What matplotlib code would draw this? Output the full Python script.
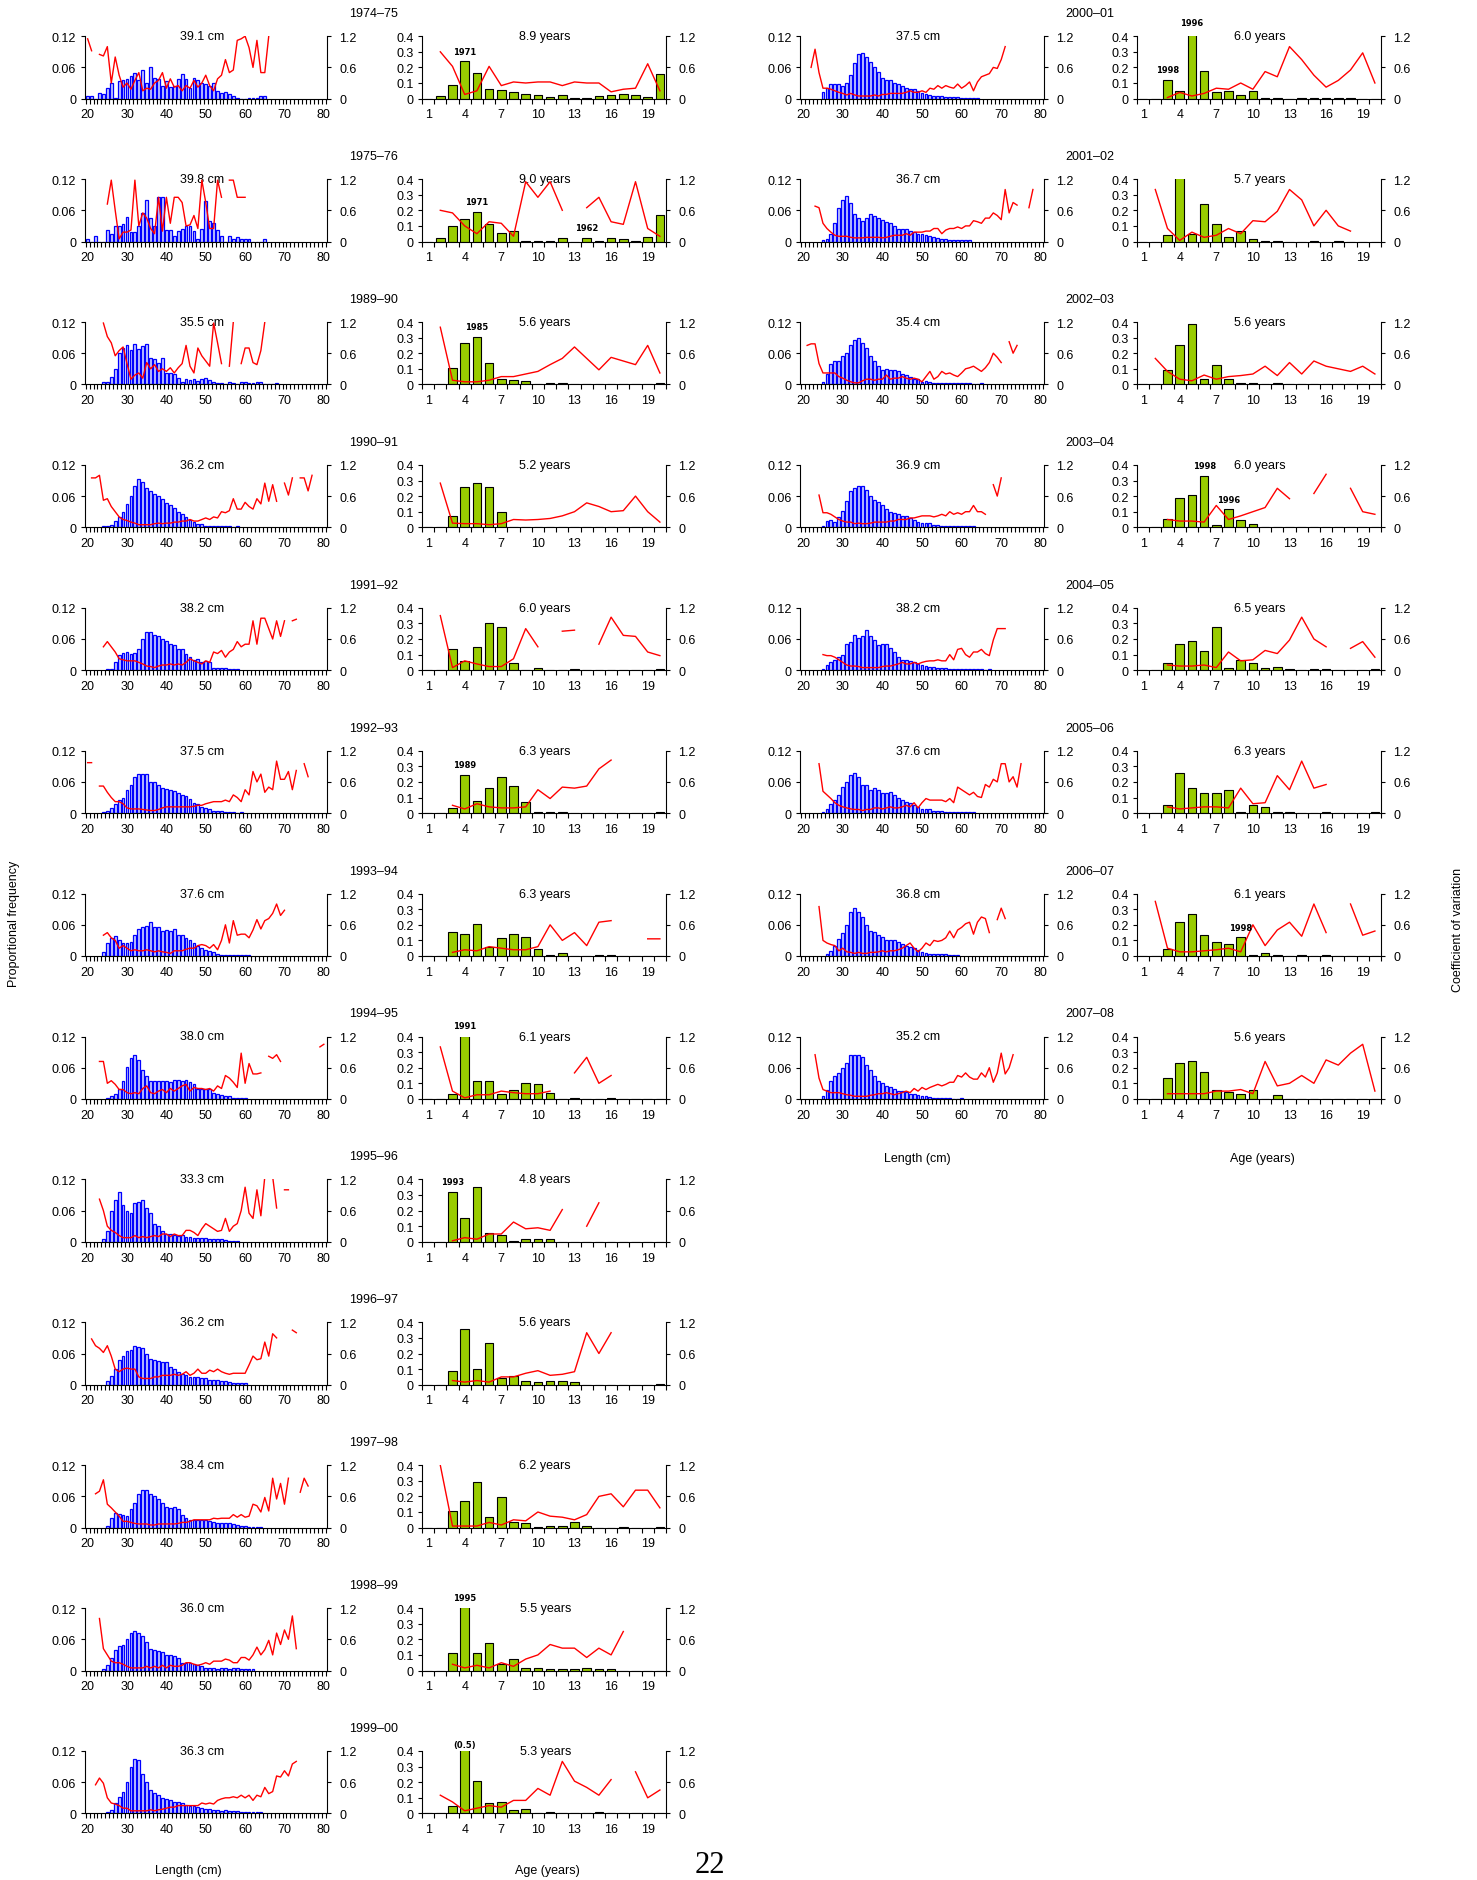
import numpy as np
import matplotlib
matplotlib.use("Agg")
import matplotlib.pyplot as plt

# -----------------------------
# Data
# -----------------------------
SEASONS = ["1974–75", "1975–76", "1989–90", "1990–91", "1991–92", "1992–93", "1993–94",
           "1994–95", "1995–96", "1996–97", "1997–98", "1998–99", "1999–00",
           "2000–01", "2001–02", "2002–03", "2003–04", "2004–05", "2005–06", "2006–07", "2007–08"]
MEAN_LEN = [39.1, 39.8, 35.5, 36.2, 38.2, 37.5, 37.6, 38.0, 33.3, 36.2, 38.4, 36.0, 36.3,
            37.5, 36.7, 35.4, 36.9, 38.2, 37.6, 36.8, 35.2]
MEAN_AGE = [8.9, 9.0, 5.6, 5.2, 6.0, 6.3, 6.3, 6.1, 4.8, 5.6, 6.2, 5.5, 5.3,
            6.0, 5.7, 5.6, 6.0, 6.5, 6.3, 6.1, 5.6]

# length frequency (1 cm classes), first class of each list
LEN_START = [20, 20, 24, 24, 25, 24, 24, 25, 24, 25, 25, 24, 25, 25, 25, 25, 25, 25, 25, 26, 25]
LEN_FREQ = [
    [0.005, 0.005, 0, 0.01, 0.008, 0.02, 0.03, 0.002, 0.033, 0.035, 0.038, 0.044, 0.05, 0.035, 0.055, 0.03,
     0.06, 0.04, 0.038, 0.025, 0.033, 0.022, 0.025, 0.038, 0.047, 0.038, 0.02, 0.04, 0.036, 0.03, 0.028,
     0.025, 0.03, 0.015, 0.01, 0.012, 0.008, 0.005, 0.002, 0, 0, 0.002, 0.002, 0.002, 0.005, 0.005],
    [0.005, 0, 0.01, 0, 0, 0.022, 0.015, 0.03, 0.03, 0.033, 0.048, 0.018, 0.018, 0.03, 0.055, 0.08, 0.045,
     0.03, 0.085, 0.085, 0.022, 0.022, 0.01, 0.02, 0.025, 0.03, 0.03, 0.02, 0.005, 0.025, 0.078, 0.04,
     0.035, 0.022, 0.01, 0, 0.01, 0.005, 0.008, 0.004, 0.004, 0.004, 0, 0, 0, 0.004],
    [0.005, 0.005, 0.015, 0.03, 0.06, 0.07, 0.075, 0.066, 0.077, 0.068, 0.073, 0.078, 0.05, 0.048, 0.042,
     0.05, 0.022, 0.022, 0.02, 0.012, 0.005, 0.01, 0.008, 0.01, 0.006, 0.01, 0.012, 0.008, 0.005, 0.003,
     0.003, 0, 0.004, 0.002, 0, 0.005, 0.004, 0.003, 0.003, 0.004, 0.004, 0, 0, 0, 0.002],
    [0.002, 0.003, 0.005, 0.012, 0.02, 0.03, 0.045, 0.06, 0.08, 0.093, 0.088, 0.075, 0.07, 0.065, 0.06,
     0.055, 0.047, 0.042, 0.038, 0.03, 0.025, 0.02, 0.015, 0.01, 0.007, 0.007, 0.003, 0.002, 0.002, 0.002,
     0.002, 0.002, 0.002, 0.001, 0.002],
    [0.002, 0.002, 0.015, 0.03, 0.033, 0.035, 0.032, 0.033, 0.04, 0.06, 0.073, 0.073, 0.067, 0.066, 0.06,
     0.057, 0.05, 0.048, 0.04, 0.04, 0.032, 0.025, 0.02, 0.022, 0.015, 0.018, 0.015, 0.005, 0.005, 0.005,
     0.005, 0.002, 0.002, 0.002],
    [0.002, 0.005, 0.01, 0.018, 0.025, 0.03, 0.045, 0.055, 0.07, 0.075, 0.075, 0.075, 0.06, 0.06, 0.055,
     0.048, 0.047, 0.045, 0.042, 0.038, 0.035, 0.032, 0.028, 0.02, 0.018, 0.012, 0.01, 0.008, 0.005, 0.005,
     0.004, 0.003, 0.002, 0.002, 0.001, 0.002],
    [0.008, 0.025, 0.035, 0.038, 0.03, 0.025, 0.025, 0.027, 0.04, 0.052, 0.055, 0.058, 0.066, 0.055, 0.055,
     0.048, 0.05, 0.048, 0.052, 0.04, 0.04, 0.035, 0.03, 0.025, 0.02, 0.015, 0.012, 0.01, 0.007, 0.003,
     0.002, 0.002, 0.001, 0.001, 0.002, 0.001, 0.002, 0.002],
    [0.002, 0.005, 0.01, 0.02, 0.035, 0.062, 0.078, 0.085, 0.075, 0.055, 0.045, 0.035, 0.035, 0.035, 0.035,
     0.034, 0.033, 0.037, 0.036, 0.035, 0.037, 0.032, 0.028, 0.02, 0.02, 0.02, 0.02, 0.012, 0.01, 0.007,
     0.005, 0.005, 0.002, 0.002, 0.001, 0.002],
    [0.005, 0.02, 0.06, 0.08, 0.095, 0.07, 0.06, 0.055, 0.075, 0.077, 0.08, 0.065, 0.055, 0.035, 0.03, 0.02,
     0.015, 0.015, 0.013, 0.012, 0.013, 0.01, 0.01, 0.008, 0.008, 0.008, 0.008, 0.006, 0.005, 0.005, 0.005,
     0.004, 0.002, 0.002, 0.002],
    [0.008, 0.017, 0.03, 0.047, 0.055, 0.065, 0.067, 0.075, 0.073, 0.07, 0.06, 0.05, 0.048, 0.045, 0.043,
     0.043, 0.035, 0.03, 0.025, 0.02, 0.018, 0.015, 0.015, 0.015, 0.013, 0.012, 0.01, 0.01, 0.009, 0.008,
     0.007, 0.005, 0.004, 0.003, 0.003, 0.003],
    [0.003, 0.018, 0.028, 0.027, 0.025, 0.022, 0.035, 0.048, 0.065, 0.073, 0.073, 0.065, 0.06, 0.055, 0.048,
     0.04, 0.038, 0.04, 0.035, 0.025, 0.018, 0.015, 0.015, 0.015, 0.015, 0.015, 0.012, 0.01, 0.009, 0.008,
     0.008, 0.009, 0.007, 0.005, 0.004, 0.003, 0.002, 0.002, 0.001, 0.002],
    [0.003, 0.01, 0.025, 0.04, 0.048, 0.05, 0.06, 0.072, 0.076, 0.073, 0.067, 0.055, 0.042, 0.04, 0.038,
     0.035, 0.03, 0.03, 0.028, 0.025, 0.015, 0.015, 0.015, 0.012, 0.01, 0.008, 0.005, 0.005, 0.005, 0.003,
     0.005, 0.004, 0.003, 0.004, 0.004, 0.003, 0.003, 0.002, 0.002],
    [0.002, 0.006, 0.02, 0.032, 0.042, 0.06, 0.09, 0.105, 0.103, 0.075, 0.06, 0.045, 0.04, 0.035, 0.03,
     0.028, 0.025, 0.022, 0.022, 0.02, 0.017, 0.015, 0.015, 0.012, 0.01, 0.008, 0.008, 0.007, 0.006, 0.005,
     0.006, 0.004, 0.004, 0.004, 0.003, 0.002, 0.002, 0.002, 0.002, 0.002],
    [0.012, 0.02, 0.028, 0.028, 0.028, 0.025, 0.03, 0.045, 0.068, 0.085, 0.088, 0.08, 0.07, 0.06, 0.052,
     0.04, 0.035, 0.035, 0.03, 0.028, 0.025, 0.02, 0.018, 0.018, 0.015, 0.01, 0.008, 0.006, 0.005, 0.005,
     0.005, 0.004, 0.004, 0.004, 0.003, 0.002, 0.002, 0.002, 0.002, 0.001],
    [0.002, 0.005, 0.015, 0.035, 0.065, 0.08, 0.088, 0.075, 0.052, 0.045, 0.04, 0.045, 0.052, 0.05, 0.045,
     0.042, 0.038, 0.035, 0.03, 0.025, 0.025, 0.025, 0.02, 0.018, 0.015, 0.015, 0.012, 0.01, 0.008, 0.006,
     0.005, 0.004, 0.003, 0.003, 0.003, 0.002, 0.002, 0.002],
    [0.005, 0.02, 0.04, 0.045, 0.045, 0.055, 0.06, 0.075, 0.085, 0.09, 0.08, 0.07, 0.055, 0.045, 0.035,
     0.028, 0.03, 0.028, 0.027, 0.025, 0.02, 0.018, 0.015, 0.01, 0.01, 0.005, 0.006, 0.005, 0.003, 0.003,
     0.003, 0.003, 0.002, 0.002, 0.002, 0.002, 0.002, 0.002, 0, 0, 0.002],
    [0.003, 0.012, 0.015, 0.01, 0.02, 0.032, 0.05, 0.07, 0.075, 0.08, 0.08, 0.072, 0.06, 0.052, 0.048,
     0.042, 0.035, 0.03, 0.028, 0.025, 0.022, 0.022, 0.018, 0.015, 0.01, 0.008, 0.008, 0.008, 0.004, 0.004,
     0.003, 0.003, 0.003, 0.003, 0.003, 0.003, 0.003, 0.003, 0.002],
    [0.003, 0.01, 0.015, 0.02, 0.025, 0.03, 0.05, 0.055, 0.068, 0.062, 0.065, 0.077, 0.065, 0.058, 0.048,
     0.05, 0.05, 0.042, 0.035, 0.025, 0.02, 0.02, 0.018, 0.015, 0.012, 0.01, 0.008, 0.007, 0.006, 0.005,
     0.005, 0.004, 0.003, 0.003, 0.003, 0.003, 0.003, 0.002, 0.002, 0.002, 0.002, 0, 0.002],
    [0.002, 0.008, 0.018, 0.025, 0.035, 0.05, 0.06, 0.073, 0.077, 0.07, 0.055, 0.055, 0.045, 0.048, 0.045,
     0.038, 0.038, 0.04, 0.035, 0.03, 0.025, 0.022, 0.02, 0.016, 0.012, 0.008, 0.008, 0.007, 0.005, 0.004,
     0.004, 0.003, 0.003, 0.002, 0.002, 0.002, 0.002, 0.002, 0.002],
    [0.003, 0.01, 0.02, 0.033, 0.045, 0.06, 0.085, 0.093, 0.085, 0.075, 0.06, 0.048, 0.047, 0.04, 0.037,
     0.03, 0.03, 0.03, 0.027, 0.023, 0.02, 0.017, 0.015, 0.012, 0.008, 0.005, 0.004, 0.004, 0.003, 0.003,
     0.003, 0.002, 0.002, 0.002],
    [0.005, 0.018, 0.035, 0.045, 0.05, 0.06, 0.07, 0.085, 0.085, 0.085, 0.08, 0.065, 0.055, 0.045, 0.035,
     0.03, 0.025, 0.022, 0.02, 0.015, 0.015, 0.013, 0.01, 0.01, 0.008, 0.006, 0.005, 0.004, 0.002, 0.002,
     0.002, 0.002, 0.002, 0, 0, 0.002],
]

# coefficient of variation by length class (None = not estimated)
LCV_START = [20, 25, 24, 21, 24, 20, 24, 23, 23, 21, 22, 23, 22, 22, 23, 21, 24, 25, 24, 24, 23]
LEN_CV = [
    [1.15, 0.92, None, 0.85, 0.82, 1.0, 0.3, 0.8, 0.45, 0.22, 0.3, 0.18, 0.35, 0.5, 0.15, 0.2, 0.18, 0.3,
     0.35, 0.5, 0.2, 0.38, 0.22, 0.25, 0.15, 0.25, 0.2, 0.35, 0.22, 0.3, 0.45, 0.25, 0.15, 0.38, 0.45, 0.75,
     0.5, 0.55, 1.12, 1.15, 1.2, 0.98, 0.6, 1.12, 0.5, 0.5, 1.2],
    [0.72, 1.18, 0.6, 0.05, 0.18, 0.18, 0.22, 1.18, 0.3, 0.55, 0.45, 0.25, 0.15, 0.85, 0.2, 0.85, 0.35,
     0.85, 0.85, 0.75, 0.3, 0.32, 0.5, 0.25, 1.18, 0.75, 0.25, 0.25, 1.18, 0.85, None, 1.18, 1.18, 0.85,
     0.85, 0.85],
    [1.18, 0.92, 0.8, 0.55, 0.65, 0.72, 0.4, 0.1, 0.18, 0.22, 0.12, 0.42, 0.3, 0.38, 0.25, 0.3, 0.25, 0.32,
     0.22, 0.32, 0.4, 0.75, 0.35, 0.22, 0.7, 0.55, 0.45, 0.35, 1.18, 0.8, 0.4, None, 0.35, 1.2, None, 0.4,
     0.7, 0.7, 0.42, 0.38, 0.65, 1.2],
    [0.95, 0.95, 1.0, 0.52, 0.55, 0.4, 0.3, 0.2, 0.15, 0.13, 0.1, 0.08, 0.05, 0.05, 0.05, 0.05, 0.07, 0.08,
     0.07, 0.08, 0.08, 0.1, 0.1, 0.12, 0.12, 0.15, 0.12, 0.12, 0.15, 0.18, 0.15, 0.2, 0.18, 0.3, 0.28, 0.32,
     0.55, 0.35, 0.35, 0.48, 0.4, 0.35, 0.55, 0.45, 0.85, 0.5, 0.82, 0.5, None, 0.85, 0.62, 0.95, None,
     0.95, 0.95, 0.7, 1.0],
    [0.45, 0.55, 0.45, 0.35, 0.22, 0.2, 0.18, 0.18, 0.18, 0.15, 0.12, 0.08, 0.07, 0.05, 0.08, 0.1, 0.1,
     0.12, 0.1, 0.12, 0.1, 0.15, 0.22, 0.18, 0.15, 0.12, 0.18, 0.15, 0.35, 0.32, 0.38, 0.25, 0.35, 0.4,
     0.55, 0.45, 0.5, 0.5, 0.95, 0.5, 1.0, 1.0, 0.8, 0.6, 0.95, 0.65, 0.95, None, 0.95, 0.98],
    [0.97, 0.97, None, 0.52, 0.52, 0.4, 0.3, 0.22, 0.22, 0.18, 0.1, 0.08, 0.08, 0.08, 0.07, 0.06, 0.05,
     0.05, 0.07, 0.1, 0.12, 0.12, 0.12, 0.12, 0.12, 0.12, 0.12, 0.13, 0.15, 0.15, 0.18, 0.2, 0.22, 0.22,
     0.22, 0.25, 0.22, 0.35, 0.3, 0.22, 0.45, 0.35, 0.8, 0.6, 0.75, 0.4, 0.5, 0.45, 1.0, 0.65, 0.65, 0.8,
     0.45, 0.82, None, 0.95, 0.7],
    [0.4, 0.45, 0.35, 0.3, 0.15, 0.2, 0.15, 0.1, 0.12, 0.1, 0.1, 0.12, 0.1, 0.08, 0.1, 0.08, 0.07, 0.05,
     0.1, 0.1, 0.1, 0.13, 0.15, 0.15, 0.2, 0.22, 0.2, 0.15, 0.22, 0.12, 0.3, 0.6, 0.25, 0.68, 0.4, 0.42,
     0.42, 0.35, 0.5, 0.7, 0.52, 0.68, 0.72, 0.82, 1.0, 0.78, 0.88],
    [0.72, 0.72, 0.3, 0.35, 0.28, 0.18, 0.18, 0.12, 0.1, 0.12, 0.1, 0.2, 0.25, 0.12, 0.1, 0.15, 0.18, 0.12,
     0.2, 0.15, 0.2, 0.25, 0.28, 0.15, 0.22, 0.2, 0.2, 0.18, 0.2, 0.15, 0.25, 0.2, 0.45, 0.4, 0.32, 0.22,
     0.88, 0.3, 0.68, 0.48, 0.48, 0.5, None, 0.82, 0.78, 0.85, 0.72, None, None, None, None, None, None,
     None, None, None, 1.0, 1.05],
    [0.82, 0.6, 0.3, 0.22, 0.18, 0.12, 0.08, 0.08, 0.08, 0.12, 0.08, 0.1, 0.08, 0.1, 0.12, 0.1, 0.15, 0.15,
     0.1, 0.15, 0.12, 0.12, 0.22, 0.22, 0.18, 0.12, 0.25, 0.35, 0.3, 0.25, 0.2, 0.22, 0.45, 0.2, 0.3, 0.35,
     0.6, 1.05, 0.55, 0.45, 1.0, 0.5, 1.25, None, 1.25, 0.65, None, 1.0, 1.0],
    [0.88, 0.75, 0.7, 0.62, 0.75, 0.55, 0.3, 0.25, 0.3, 0.32, 0.3, 0.3, 0.15, 0.12, 0.12, 0.12, 0.15, 0.15,
     0.18, 0.18, 0.18, 0.2, 0.18, 0.2, 0.25, 0.18, 0.22, 0.3, 0.22, 0.22, 0.28, 0.25, 0.3, 0.25, 0.22, 0.2,
     0.22, 0.22, 0.22, 0.22, 0.38, 0.55, 0.48, 0.5, 0.82, 0.55, 0.98, 0.9, None, None, None, 1.05, 1.0],
    [0.65, 0.7, 0.92, 0.45, 0.38, 0.3, 0.22, 0.12, 0.12, 0.1, 0.08, 0.07, 0.07, 0.07, 0.05, 0.05, 0.07, 0.07,
     0.07, 0.07, 0.07, 0.08, 0.1, 0.1, 0.12, 0.15, 0.15, 0.15, 0.15, 0.15, 0.18, 0.17, 0.18, 0.18, 0.18,
     0.25, 0.2, 0.25, 0.2, 0.22, 0.45, 0.42, 0.3, 0.58, 0.32, 0.95, 0.55, 0.85, 0.45, 0.95, None, None, 0.68,
     0.95, 0.8],
    [1.0, 0.42, 0.3, 0.18, 0.15, 0.15, 0.12, 0.08, 0.05, 0.05, 0.05, 0.05, 0.08, 0.05, 0.08, 0.05, 0.1, 0.05,
     0.1, 0.08, 0.08, 0.1, 0.15, 0.15, 0.12, 0.1, 0.12, 0.15, 0.12, 0.18, 0.18, 0.18, 0.22, 0.2, 0.15, 0.15,
     0.25, 0.25, 0.2, 0.3, 0.45, 0.3, 0.4, 0.58, 0.3, 0.72, 0.5, 0.78, 0.6, 1.05, 0.42],
    [0.55, 0.68, 0.58, 0.3, 0.2, 0.18, 0.15, 0.1, 0.1, 0.05, 0.05, 0.05, 0.05, 0.05, 0.07, 0.05, 0.07, 0.08,
     0.1, 0.12, 0.12, 0.15, 0.15, 0.15, 0.15, 0.15, 0.15, 0.2, 0.18, 0.2, 0.18, 0.25, 0.28, 0.3, 0.3, 0.32,
     0.3, 0.35, 0.3, 0.35, 0.25, 0.35, 0.32, 0.5, 0.38, 0.42, 0.72, 0.7, 0.82, 0.72, 0.95, 1.0],
    [0.6, 0.95, 0.5, 0.2, 0.2, 0.18, 0.15, 0.12, 0.1, 0.07, 0.1, 0.07, 0.05, 0.05, 0.05, 0.05, 0.07, 0.05,
     0.08, 0.08, 0.1, 0.1, 0.1, 0.1, 0.12, 0.15, 0.12, 0.12, 0.15, 0.12, 0.2, 0.18, 0.25, 0.2, 0.25, 0.22,
     0.2, 0.28, 0.2, 0.25, 0.32, 0.15, 0.32, 0.42, 0.45, 0.48, 0.6, 0.58, 0.75, 1.0],
    [0.68, 0.65, 0.35, 0.25, 0.18, 0.12, 0.1, 0.1, 0.1, 0.08, 0.07, 0.07, 0.07, 0.08, 0.08, 0.08, 0.08, 0.07,
     0.08, 0.1, 0.12, 0.12, 0.12, 0.15, 0.12, 0.18, 0.18, 0.18, 0.2, 0.2, 0.25, 0.25, 0.15, 0.22, 0.25, 0.25,
     0.28, 0.25, 0.3, 0.3, 0.4, 0.38, 0.35, 0.45, 0.45, 0.55, 0.5, 0.42, 1.0, 0.55, 0.75, 0.7, None, None,
     0.65, 1.0],
    [0.75, 0.78, 0.78, 0.4, 0.22, 0.22, 0.22, 0.22, 0.15, 0.12, 0.08, 0.05, 0.03, 0.03, 0.07, 0.1, 0.1, 0.08,
     0.1, 0.1, 0.18, 0.1, 0.12, 0.12, 0.15, 0.12, 0.1, 0.12, 0.1, 0.05, 0.15, 0.25, 0.1, 0.15, 0.25, 0.2,
     0.22, 0.18, 0.15, 0.22, 0.3, 0.32, 0.35, 0.3, 0.25, 0.32, 0.42, 0.6, 0.52, 0.42, None, 0.82, 0.6, 0.75],
    [0.62, 0.28, 0.28, 0.25, 0.2, 0.15, 0.12, 0.1, 0.1, 0.07, 0.08, 0.07, 0.07, 0.08, 0.1, 0.1, 0.1, 0.1,
     0.12, 0.12, 0.15, 0.15, 0.15, 0.18, 0.18, 0.2, 0.22, 0.22, 0.22, 0.2, 0.22, 0.25, 0.22, 0.3, 0.25, 0.28,
     0.25, 0.3, 0.3, 0.42, 0.3, 0.3, 0.25, None, 0.82, 0.6, 0.95],
    [0.3, 0.28, 0.28, 0.25, 0.2, 0.15, 0.1, 0.08, 0.08, 0.07, 0.05, 0.05, 0.05, 0.05, 0.05, 0.07, 0.08, 0.08,
     0.1, 0.12, 0.15, 0.12, 0.12, 0.15, 0.12, 0.15, 0.17, 0.18, 0.18, 0.2, 0.18, 0.18, 0.3, 0.2, 0.4, 0.42,
     0.3, 0.25, 0.35, 0.35, 0.4, 0.32, 0.28, 0.58, 0.8, 0.8, 0.8],
    [0.95, 0.42, 0.35, 0.28, 0.2, 0.15, 0.12, 0.1, 0.08, 0.07, 0.07, 0.05, 0.07, 0.07, 0.1, 0.1, 0.08, 0.1,
     0.12, 0.1, 0.1, 0.12, 0.15, 0.12, 0.2, 0.1, 0.2, 0.28, 0.25, 0.25, 0.25, 0.25, 0.22, 0.28, 0.2, 0.5,
     0.45, 0.4, 0.35, 0.4, 0.32, 0.3, 0.55, 0.5, 0.65, 0.6, 0.95, 0.95, 0.6, 0.7, 0.5, 0.95],
    [0.95, 0.3, 0.25, 0.22, 0.2, 0.1, 0.15, 0.08, 0.07, 0.05, 0.07, 0.05, 0.05, 0.07, 0.07, 0.08, 0.1, 0.08,
     0.1, 0.1, 0.12, 0.15, 0.2, 0.25, 0.15, 0.08, 0.15, 0.25, 0.2, 0.3, 0.28, 0.3, 0.35, 0.48, 0.35, 0.5,
     0.55, 0.62, 0.65, 0.42, 0.65, 0.75, 0.72, 0.45, None, 0.7, 0.92, 0.72],
    [0.85, 0.4, 0.18, 0.15, 0.12, 0.12, 0.12, 0.1, 0.08, 0.07, 0.05, 0.05, 0.05, 0.05, 0.07, 0.08, 0.1, 0.1,
     0.12, 0.1, 0.08, 0.1, 0.12, 0.15, 0.12, 0.2, 0.15, 0.22, 0.18, 0.22, 0.25, 0.28, 0.25, 0.28, 0.32, 0.32,
     0.45, 0.42, 0.5, 0.42, 0.38, 0.38, 0.5, 0.42, 0.6, 0.32, 0.5, 0.88, 0.48, 0.6, 0.85],
]

# age frequency, ages 1-20
AGE_FREQ = [
    [0, 0.015, 0.085, 0.24, 0.165, 0.06, 0.055, 0.045, 0.03, 0.025, 0.008, 0.022, 0.005, 0.005, 0.015, 0.025, 0.03, 0.025, 0.008, 0.16],
    [0, 0.025, 0.1, 0.145, 0.19, 0.115, 0.055, 0.07, 0.005, 0.005, 0.005, 0.025, 0, 0.025, 0.005, 0.025, 0.015, 0.005, 0.03, 0.17],
    [0, 0, 0.105, 0.265, 0.305, 0.135, 0.035, 0.03, 0.02, 0.005, 0.012, 0.012, 0, 0.005, 0.005, 0, 0.005, 0.005, 0, 0.012],
    [0, 0, 0.075, 0.26, 0.285, 0.26, 0.1, 0.005, 0.005, 0, 0, 0, 0, 0, 0, 0, 0, 0, 0, 0.005],
    [0, 0, 0.135, 0.06, 0.15, 0.305, 0.275, 0.045, 0, 0.015, 0, 0, 0.005, 0, 0, 0, 0, 0, 0, 0.005],
    [0, 0, 0.03, 0.245, 0.075, 0.16, 0.23, 0.175, 0.07, 0.005, 0.005, 0.005, 0, 0, 0, 0, 0, 0, 0, 0.005],
    [0, 0, 0.155, 0.14, 0.205, 0.055, 0.115, 0.14, 0.125, 0.045, 0.005, 0.02, 0, 0, 0.005, 0.005, 0, 0, 0, 0],
    [0, 0, 0.03, 0.405, 0.115, 0.115, 0.03, 0.06, 0.1, 0.095, 0.04, 0, 0.005, 0, 0, 0.005, 0, 0, 0, 0],
    [0, 0, 0.32, 0.15, 0.35, 0.055, 0.045, 0.005, 0.02, 0.02, 0.02, 0, 0, 0, 0, 0, 0, 0, 0, 0],
    [0, 0, 0.09, 0.355, 0.1, 0.27, 0.04, 0.055, 0.025, 0.015, 0.025, 0.025, 0.015, 0, 0, 0, 0, 0, 0, 0.005],
    [0, 0, 0.105, 0.17, 0.29, 0.065, 0.195, 0.035, 0.03, 0.005, 0.012, 0.012, 0.035, 0.012, 0, 0, 0.005, 0, 0, 0.005],
    [0, 0, 0.115, 0.405, 0.115, 0.175, 0.04, 0.075, 0.015, 0.015, 0.008, 0.008, 0.008, 0.015, 0.008, 0.008, 0, 0, 0, 0],
    [0, 0, 0.05, 0.5, 0.205, 0.065, 0.075, 0.02, 0.028, 0.005, 0.012, 0, 0.005, 0.005, 0.012, 0.005, 0, 0, 0.005, 0.005],
    [0, 0, 0.12, 0.05, 0.42, 0.175, 0.045, 0.05, 0.02, 0.05, 0.005, 0.005, 0, 0.005, 0.005, 0.005, 0.005, 0.005, 0, 0],
    [0, 0, 0.04, 0.45, 0.05, 0.24, 0.11, 0.03, 0.065, 0.015, 0.005, 0.005, 0, 0, 0.005, 0, 0.005, 0, 0, 0],
    [0, 0, 0.09, 0.25, 0.385, 0.035, 0.125, 0.035, 0.012, 0.012, 0, 0.012, 0, 0.005, 0, 0, 0.005, 0.005, 0, 0.005],
    [0, 0, 0.055, 0.19, 0.21, 0.33, 0.015, 0.115, 0.045, 0.02, 0.005, 0, 0.005, 0, 0, 0, 0, 0, 0.005, 0.005],
    [0, 0, 0.045, 0.17, 0.185, 0.125, 0.275, 0.015, 0.065, 0.045, 0.015, 0.02, 0.008, 0, 0.005, 0.005, 0, 0, 0, 0.005],
    [0, 0, 0.05, 0.255, 0.16, 0.13, 0.13, 0.145, 0.005, 0.055, 0.04, 0.005, 0.005, 0, 0, 0.005, 0, 0, 0, 0.005],
    [0, 0, 0.045, 0.215, 0.27, 0.135, 0.09, 0.075, 0.12, 0.005, 0.02, 0.005, 0, 0.005, 0, 0.005, 0, 0, 0, 0],
    [0, 0, 0.135, 0.23, 0.245, 0.17, 0.06, 0.045, 0.03, 0.06, 0, 0.022, 0, 0, 0, 0, 0, 0, 0, 0],
]

# coefficient of variation by age, ages 1-20
AGE_CV = [
    [None, 0.9, 0.62, 0.08, 0.15, 0.62, 0.25, 0.32, 0.3, 0.32, 0.32, 0.25, 0.32, 0.3, 0.3, 0.13, 0.18, 0.2, 0.67, 0.15],
    [None, 0.6, 0.55, 0.3, 0.15, 0.38, 0.35, 0.1, 1.15, 0.85, 1.15, 0.6, None, 0.65, 0.85, 0.38, 0.33, 1.15, 0.25, 0.1],
    [None, 1.1, 0.08, 0.05, 0.05, 0.08, 0.15, 0.15, 0.2, 0.25, 0.38, 0.5, 0.72, 0.5, 0.28, 0.52, 0.45, 0.38, 0.75, 0.22],
    [None, 0.85, 0.08, 0.07, 0.07, 0.05, 0.07, 0.15, 0.14, 0.15, 0.17, 0.22, 0.3, 0.47, 0.4, 0.3, 0.32, 0.6, 0.3, 0.1],
    [None, 1.05, 0.05, 0.18, 0.12, 0.07, 0.07, 0.22, 0.8, 0.45, None, 0.75, 0.77, None, 0.5, 1.02, 0.67, 0.65, 0.35, 0.28],
    [None, None, 0.15, 0.08, 0.18, 0.12, 0.1, 0.1, 0.12, 0.45, 0.28, 0.5, 0.48, 0.52, 0.85, 1.02, None, None, None, None],
    [None, None, 0.07, 0.12, 0.1, 0.18, 0.15, 0.12, 0.12, 0.18, 0.6, 0.3, 0.45, 0.2, 0.65, 0.68, None, None, 0.33, 0.33],
    [None, 1.0, 0.15, 0.02, 0.08, 0.08, 0.15, 0.12, 0.1, 0.1, 0.15, None, 0.5, 0.8, 0.3, 0.45, None, None, None, None],
    [None, None, 0.02, 0.08, 0.05, 0.15, 0.15, 0.38, 0.25, 0.27, 0.22, 0.62, None, 0.3, 0.75, None, None, None, None, None],
    [None, None, 0.08, 0.05, 0.08, 0.05, 0.15, 0.15, 0.22, 0.27, 0.18, 0.2, 0.25, 1.0, 0.6, 1.0, None, None, None, None],
    [None, 1.2, 0.03, 0.03, 0.03, 0.1, 0.05, 0.15, 0.13, 0.3, 0.22, 0.2, 0.15, 0.25, 0.6, 0.65, 0.4, 0.72, 0.72, 0.38],
    [None, None, 0.12, 0.05, 0.1, 0.05, 0.15, 0.08, 0.22, 0.3, 0.5, 0.43, 0.43, 0.25, 0.43, 0.3, 0.75, None, None, None],
    [None, 0.35, 0.22, 0.05, 0.1, 0.15, 0.12, 0.25, 0.25, 0.48, 0.35, 1.0, 0.62, 0.5, 0.35, 0.65, None, 0.8, 0.3, 0.45],
    [None, None, 0.02, 0.12, 0.05, 0.1, 0.2, 0.18, 0.3, 0.18, 0.52, 0.42, 1.0, 0.75, 0.45, 0.22, 0.35, 0.55, 0.88, 0.3],
    [None, 1.0, 0.25, 0.02, 0.18, 0.08, 0.12, 0.25, 0.15, 0.4, 0.38, 0.58, 1.0, 0.8, 0.3, 0.6, 0.3, 0.2, None, None],
    [None, 0.5, 0.25, 0.1, 0.07, 0.18, 0.1, 0.15, 0.17, 0.2, 0.35, 0.17, 0.42, 0.2, 0.45, 0.35, 0.3, 0.25, 0.35, 0.2],
    [None, None, 0.15, 0.12, 0.12, 0.1, 0.42, 0.15, 0.22, 0.3, 0.38, 0.75, 0.55, None, 0.65, 1.02, None, 0.75, 0.3, 0.25],
    [None, None, 0.1, 0.08, 0.08, 0.1, 0.05, 0.35, 0.18, 0.2, 0.38, 0.32, 0.58, 1.02, 0.6, 0.45, None, 0.42, 0.55, 0.25],
    [None, None, 0.12, 0.08, 0.1, 0.12, 0.12, 0.1, 0.48, 0.18, 0.2, 0.72, 0.45, 1.0, 0.48, 0.55, None, None, None, None],
    [None, 1.05, 0.15, 0.08, 0.08, 0.1, 0.12, 0.15, 0.08, 0.6, 0.2, 0.5, 0.65, 0.38, 1.0, 0.45, None, 1.0, 0.4, 0.48],
    [None, None, 0.1, 0.1, 0.1, 0.1, 0.15, 0.15, 0.18, 0.1, 0.72, 0.25, 0.3, 0.45, 0.3, 0.75, 0.65, 0.88, 1.05, 0.15],
]

# year-class annotations: (age, label)
COHORTS = [[(4, "1971")], [(5, "1971"), (14, "1962")], [(5, "1985")], [], [], [(4, "1989")], [],
           [(4, "1991")], [(3, "1993")], [], [], [(4, "1995")], [(4, "(0.5)")],
           [(3, "1998"), (5, "1996")], [], [], [(6, "1998"), (8, "1996")], [], [], [(9, "1998")], []]

AGES = np.arange(1, 21)

# -----------------------------
# Layout (pixels of the 1477x1881 page)
# -----------------------------
W, H = 1477, 1881
COLS = [dict(len_x=(84.5, 327), age_x=(422, 666), title_x=374, n=13),
        dict(len_x=(800, 1044), age_x=(1137, 1381), title_x=1090, n=8)]
ROW0_TOP, ROW0_BOT, ROW_STEP = 37.2, 99.6, 142.9

FONT = "Liberation Sans"
plt.rcParams["font.family"] = [FONT, "DejaVu Sans"]
plt.rcParams["font.size"] = 9

BLUE = "#0000ff"
GREEN = "#99cc00"
RED = "#ff0000"

fig = plt.figure(figsize=(W / 100, H / 100), dpi=100)


def add_axes(x0, x1, top, bot):
    return fig.add_axes([x0 / W, 1 - bot / H, (x1 - x0) / W, (bot - top) / H])


def base_style(ax, ax2, ylim, yticks, ylabels):
    ax.set_ylim(*ylim)
    ax.set_yticks(yticks)
    ax.set_yticklabels(ylabels)
    ax2.set_ylim(0, 1.2)
    ax2.set_yticks([0, 0.6, 1.2])
    ax2.set_yticklabels(["0", "0.6", "1.2"])
    for a in (ax, ax2):
        a.spines["top"].set_visible(False)
        for s in a.spines.values():
            s.set_linewidth(0.8)
    ax.spines["right"].set_visible(False)
    ax2.spines["left"].set_visible(False)
    ax2.spines["bottom"].set_visible(False)
    ax.tick_params(axis="y", direction="out", length=3, width=0.8, pad=3, labelsize=9)
    ax2.tick_params(axis="y", direction="out", length=3, width=0.8, pad=6, labelsize=9)
    ax.tick_params(axis="x", which="major", length=0, pad=7, labelsize=9)
    ax.tick_params(axis="x", which="minor", direction="out", length=3.5, width=0.8)


def cv_line(ax2, x, cv):
    ax2.plot(x, np.array(cv, dtype=float), color=RED, lw=1.0, clip_on=True)


def draw_length(i, x0, x1, top, bot):
    ax = add_axes(x0, x1, top, bot)
    ax2 = ax.twinx()
    freq = LEN_FREQ[i]
    xs = LEN_START[i] + np.arange(len(freq))
    ax.bar(xs, freq, width=0.72, color="#c8ccff", edgecolor=BLUE, linewidth=0.9)
    cv = LEN_CV[i]
    cv_line(ax2, LCV_START[i] + np.arange(len(cv)), cv)
    ax.set_xlim(19.2, 80.8)
    ax.set_xticks(np.arange(20, 81, 10))
    ax.set_xticks(np.arange(19.5, 81, 1), minor=True)
    base_style(ax, ax2, (0, 0.12), [0, 0.06, 0.12], ["0", "0.06", "0.12"])
    ax.text(49, 0.12, f"{MEAN_LEN[i]:.1f} cm", ha="center", va="center", fontsize=9)


def draw_age(i, x0, x1, top, bot):
    ax = add_axes(x0, x1, top, bot)
    ax2 = ax.twinx()
    freq = AGE_FREQ[i]
    ax.bar(AGES + 0.06, freq, width=0.72, color="#9a9a9a", edgecolor="none", zorder=1)
    ax.bar(AGES, freq, width=0.7, color=GREEN, edgecolor="black", linewidth=0.8, zorder=2)
    cv_line(ax2, AGES, AGE_CV[i])
    ax.set_xlim(0.5, 20.5)
    ax.set_xticks(np.arange(1, 21, 3))
    ax.set_xticks(np.arange(0.5, 21, 1), minor=True)
    base_style(ax, ax2, (0, 0.4), [0, 0.1, 0.2, 0.3, 0.4], ["0", "0.1", "0.2", "0.3", "0.4"])
    ax.text(10.6, 0.4, f"{MEAN_AGE[i]:.1f} years", ha="center", va="center", fontsize=9)
    for age, lab in COHORTS[i]:
        h = freq[age - 1]
        # bars running off the top get their label just above the frame
        y = h + 0.065 if h <= 0.42 else 0.44
        ax2.text(age, y * 3, lab, ha="center", va="center", fontsize=6, fontweight="bold",
                 family="DejaVu Sans", clip_on=False)


# -----------------------------
# Panels
# -----------------------------
i = 0
for col in COLS:
    for r in range(col["n"]):
        top = ROW0_TOP + r * ROW_STEP
        bot = ROW0_BOT + r * ROW_STEP
        draw_length(i, *col["len_x"], top, bot)
        draw_age(i, *col["age_x"], top, bot)
        fig.text(col["title_x"] / W, 1 - (top - 23) / H, SEASONS[i], ha="center", va="center", fontsize=9)
        i += 1

# axis titles
fig.text(14 / W, 1 - 924 / H, "Proportional frequency", rotation=90, ha="center", va="center", fontsize=9)
fig.text(1458 / W, 1 - 930 / H, "Coefficient of variation", rotation=90, ha="center", va="center", fontsize=9)
fig.text(188 / W, 1 - 1871 / H, "Length (cm)", ha="center", va="center", fontsize=9)
fig.text(547 / W, 1 - 1871 / H, "Age (years)", ha="center", va="center", fontsize=9)
fig.text(917 / W, 1 - 1159 / H, "Length (cm)", ha="center", va="center", fontsize=9)
fig.text(1262 / W, 1 - 1159 / H, "Age (years)", ha="center", va="center", fontsize=9)
fig.text(710 / W, 1 - 1866 / H, "22", ha="center", va="center", fontsize=22, family="Liberation Serif")

fig.savefig("out.png", dpi=100)
